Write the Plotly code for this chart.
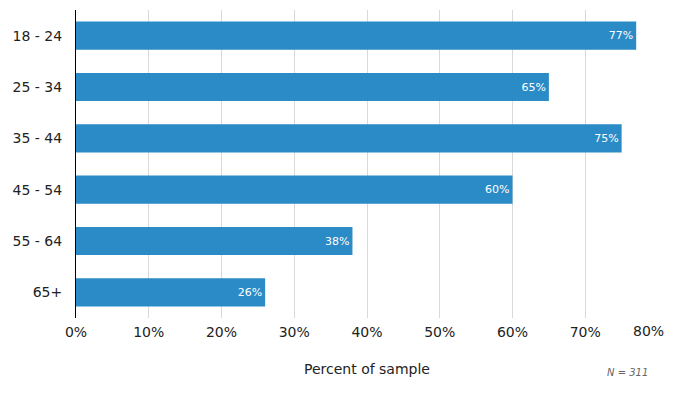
import plotly.graph_objects as go

categories = ["18 - 24", "25 - 34", "35 - 44", "45 - 54", "55 - 64", "65+"]
values = [77, 65, 75, 60, 38, 26]
tick_vals = [0, 10, 20, 30, 40, 50, 60, 70, 80]
tick_text = ["0%", "10%", "20%", "30%", "40%", "50%", "60%", "70%", "80%"]

font = "DejaVu Sans, Verdana, sans-serif"

fig = go.Figure(go.Bar(
    x=values, y=categories, orientation="h",
    marker=dict(color="#2a8bc7", line=dict(width=0)),
    width=0.55,
    text=[f"{v}%" for v in values],
    textposition="inside", insidetextanchor="end",
    textfont=dict(color="white", size=11, family=font),
    hoverinfo="skip",
    cliponaxis=False,
))

# the last tick label would be clipped at the page edge, so it is drawn as an annotation
shown_ticks = tick_text[:-1] + [""]

# page body has an 8px margin, so the figure is sized/offset to compensate
fig.update_layout(
    width=667, height=382,
    margin=dict(l=68, r=17, t=2, b=72),
    plot_bgcolor="white", paper_bgcolor="white",
    font=dict(family=font, size=14, color="#222"),
    showlegend=False,
    uniformtext=dict(minsize=11, mode="show"),
    xaxis=dict(
        range=[0, 80], tickvals=tick_vals, ticktext=shown_ticks,
        showgrid=True, gridcolor="#d9d9d9", gridwidth=1,
        zeroline=False, showline=False, automargin=False,
        ticks="", ticklabelstandoff=4, tickfont=dict(size=14),
        title=dict(text="Percent of sample", font=dict(size=14), standoff=25),
    ),
    yaxis=dict(
        categoryorder="array", categoryarray=categories[::-1],
        showline=True, linecolor="black", linewidth=1,
        showgrid=False, ticks="", ticklabelstandoff=10, automargin=False,
        tickfont=dict(size=14), range=[-0.5, 5.5],
    ),
)
pw = 667 - 68 - 17
ph = 382 - 2 - 72
fig.add_annotation(
    text=tick_text[-1], x=tick_vals[-1], xref="x",
    y=(318 - 331) / ph, yref="paper",
    xanchor="right", yanchor="middle", xshift=8,
    showarrow=False, font=dict(size=14, color="#222"),
)
fig.add_annotation(
    text="<i>N = 311</i>", x=(627 - 76) / pw, y=(318 - 372) / ph,
    xref="paper", yref="paper", xanchor="center", yanchor="middle",
    showarrow=False, font=dict(size=10, color="#666"),
)

fig.write_html("out.html")
